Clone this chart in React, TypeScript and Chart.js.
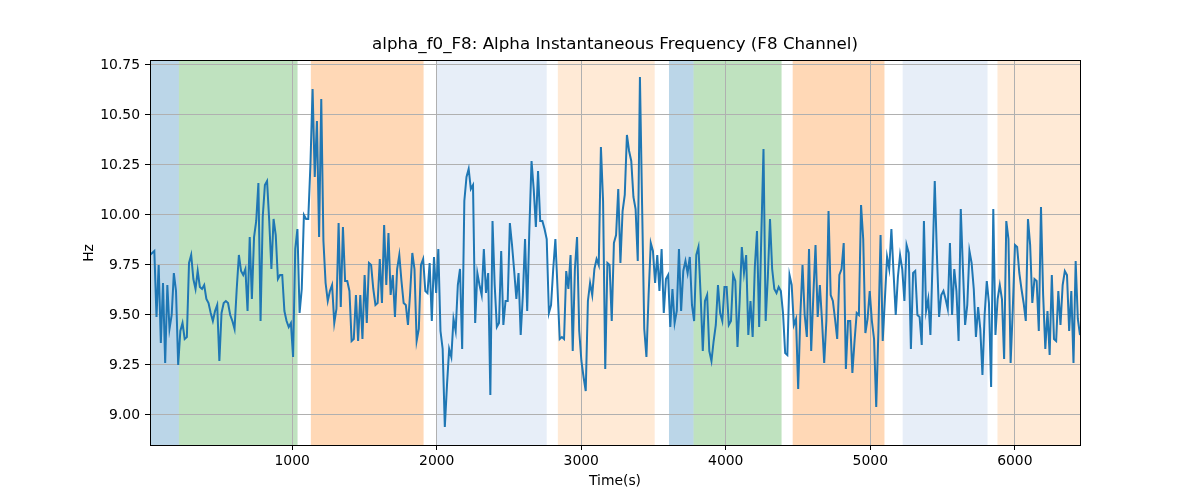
import React, { useEffect, useRef } from "react";
import { Chart, registerables } from "chart.js";

Chart.register(...registerables);

const TITLE = "alpha_f0_F8: Alpha Instantaneous Frequency (F8 Channel)";
const X_LABEL = "Time(s)";
const Y_LABEL = "Hz";

// sampling: first sample time and step (s)
const T_START = 16;
const T_STEP = 15;

// frequency samples (Hz), in time order
const hzPart1 = [
  9.80, 9.81, 9.82, 9.49, 9.75, 9.36, 9.66, 9.26, 9.65, 9.43,
  9.50, 9.71, 9.62, 9.25, 9.42, 9.46, 9.38, 9.39, 9.76, 9.80,
  9.68, 9.63, 9.72, 9.64, 9.63, 9.65, 9.58, 9.56, 9.51, 9.47,
  9.52, 9.55, 9.27, 9.51, 9.56, 9.57, 9.56, 9.50, 9.47, 9.43,
  9.63, 9.80, 9.72, 9.70, 9.73, 9.52, 9.89, 9.58, 9.89, 9.97,
  10.16, 9.47, 9.99, 10.15, 10.17, 9.97, 9.73, 9.98, 9.90, 9.68,
  9.70, 9.70, 9.52, 9.47, 9.44, 9.46, 9.29, 9.83, 9.93, 9.51,
  9.63, 10.00,
];
const hzPart2 = [
  9.98, 9.98, 10.25, 10.63, 10.19, 10.47, 9.89, 10.58, 9.87, 9.66,
  9.57, 9.62, 9.65, 9.46, 9.53, 9.96, 9.54, 9.94, 9.67, 9.67,
  9.62, 9.37, 9.38, 9.60, 9.37, 9.60, 9.38, 9.70, 9.46, 9.76,
  9.75, 9.63, 9.55, 9.56, 9.78, 9.56, 9.95, 9.65, 9.91, 9.60,
  9.70, 9.49, 9.73, 9.80, 9.67, 9.56, 9.55, 9.45, 9.61, 9.81,
  9.73, 9.37, 9.43, 9.75, 9.78, 9.62, 9.61, 9.76, 9.47, 9.79,
  9.61, 9.83, 9.42, 9.33,
];
const hzPart3 = [
  8.94, 9.15, 9.33, 9.29, 9.48, 9.42, 9.65, 9.73, 9.33, 10.07,
  10.19, 10.23, 10.13, 10.15, 9.46, 9.71, 9.65, 9.60, 9.83, 9.61,
  9.71, 9.10, 9.97, 9.65, 9.44, 9.46, 9.82, 9.45, 9.57, 9.57,
  9.96, 9.85, 9.72, 9.58, 9.71, 9.40, 9.60, 9.88, 9.52, 9.93,
  10.27, 10.13, 9.94, 10.22, 9.97, 9.97, 9.93, 9.88, 9.51, 9.55,
  9.73, 9.88, 9.63, 9.38, 9.39, 9.38, 9.72, 9.63, 9.80, 9.32,
  9.73, 9.89, 9.42, 9.27, 9.19, 9.12, 9.57, 9.66, 9.60, 9.73,
  9.78, 9.75,
];
const hzPart4 = [
  10.34, 10.07, 9.23, 9.76, 9.75, 9.47, 9.86, 9.90, 10.13, 9.76,
  10.02, 10.10, 10.40, 10.32, 10.27, 10.09, 10.03, 9.77, 10.69, 10.05,
  9.43, 9.29, 9.60, 9.86, 9.82, 9.66, 9.80, 9.62, 9.83, 9.51,
  9.68, 9.70, 9.44, 9.63, 9.46, 9.52, 9.83, 9.52, 9.72, 9.77,
  9.71, 9.79, 9.55, 9.47, 9.80, 9.84, 9.60, 9.32, 9.57, 9.60,
  9.32, 9.27, 9.37, 9.45, 9.65, 9.51, 9.47, 9.64, 9.64, 9.45,
  9.47, 9.70, 9.67, 9.34, 9.57, 9.84, 9.71,
];
const hzPart5 = [
  9.80, 9.40, 9.57, 9.39, 9.74, 9.92, 9.44, 9.90, 10.33, 9.47,
  9.69, 9.98, 9.73, 9.63, 9.61, 9.64, 9.62, 9.51, 9.31, 9.30,
  9.70, 9.65, 9.45, 9.48, 9.13, 9.50, 9.75, 9.50, 9.39, 9.83,
  9.32, 9.60, 9.85, 9.49, 9.65, 9.47, 9.26, 9.47, 10.02, 9.60,
  9.57, 9.48, 9.38, 9.70, 9.73, 9.86, 9.23, 9.47, 9.47, 9.21,
  9.37, 9.51, 9.50, 10.05, 9.88, 9.41, 9.48, 9.62, 9.47, 9.38,
  9.04, 9.42, 9.90, 9.37, 9.58, 9.79, 9.73, 9.93, 9.71, 9.50,
  9.69, 9.80, 9.73, 9.57,
];
const hzPart6 = [
  9.85, 9.81, 9.33, 9.71, 9.72, 9.50, 9.49, 9.35, 9.97, 9.52,
  9.58, 9.40, 9.77, 10.17, 9.80, 9.49, 9.60, 9.62, 9.58, 9.53,
  9.86, 9.50, 9.73, 9.62, 9.37, 10.03, 9.73, 9.45, 9.55, 9.82,
  9.76, 9.63, 9.39, 9.54, 9.43, 9.20, 9.50, 9.67, 9.56, 9.14,
  10.03, 9.40, 9.58, 9.65, 9.58, 9.28, 9.97, 9.88, 9.26, 9.53,
  9.85, 9.84, 9.71, 9.63, 9.56, 9.47, 9.98, 9.85, 9.56, 9.68,
  9.67, 9.42, 10.04, 9.60, 9.33, 9.52, 9.30, 9.70, 9.38, 9.37,
  9.62, 9.45, 9.65, 9.72, 9.70, 9.42, 9.62, 9.26, 9.77, 9.48,
  9.40,
];

const hz = [...hzPart1, ...hzPart2, ...hzPart3, ...hzPart4, ...hzPart5, ...hzPart6];
const times = hz.map((_, i) => T_START + i * T_STEP);

// tick labels
const xTicks = [1000, 2000, 3000, 4000, 5000, 6000];
const yTicks = [9.0, 9.25, 9.5, 9.75, 10.0, 10.25, 10.5, 10.75];
const Y_MIN = 8.85;
const Y_MAX = 10.77;

// shaded segments (s)
const bandStart = [16, 216, 1129, 2001, 2838, 3607, 3777, 4463, 5224, 5880];
const bandEnd = [216, 1037, 1909, 2761, 3508, 3777, 4386, 5098, 5811, 6451];
const bandKind = ["blue", "green", "orange", "lightblue", "lightorange", "blue", "green", "orange", "lightblue", "lightorange"];

const BAND_COLORS: Record<string, string> = {
  blue: "rgba(31,119,180,0.3)",
  green: "rgba(44,160,44,0.3)",
  orange: "rgba(255,127,14,0.3)",
  lightblue: "rgba(174,199,232,0.3)",
  lightorange: "rgba(255,187,120,0.3)",
};

const FONT = "DejaVu Sans";

const decorPlugin = {
  id: "decor",
  beforeDraw(chart: any) {
    const { ctx, chartArea, scales } = chart;
    const x = scales.x;
    ctx.save();
    for (let i = 0; i < bandStart.length; i++) {
      const x1 = x.getPixelForValue(bandStart[i]);
      const x2 = x.getPixelForValue(bandEnd[i]);
      ctx.fillStyle = BAND_COLORS[bandKind[i]];
      ctx.fillRect(x1, chartArea.top, x2 - x1, chartArea.bottom - chartArea.top);
    }
    ctx.restore();
  },
  afterDatasetsDraw(chart: any) {
    const { ctx, chartArea } = chart;
    ctx.save();
    ctx.strokeStyle = "#000";
    ctx.lineWidth = 1;
    const l = Math.round(chartArea.left) + 0.5;
    const r = Math.round(chartArea.right) + 0.5;
    const t = Math.round(chartArea.top) - 0.5;
    const b = Math.round(chartArea.bottom) + 0.5;
    ctx.strokeRect(l, t, r - l, b - t);
    ctx.restore();
  },
  afterDraw(chart: any) {
    const { ctx, chartArea } = chart;
    const cx = (chartArea.left + chartArea.right) / 2;
    const cy = (chartArea.top + chartArea.bottom) / 2;
    ctx.save();
    ctx.fillStyle = "#000";
    ctx.textAlign = "center";
    ctx.textBaseline = "alphabetic";
    ctx.font = `16.7px "${FONT}"`;
    ctx.fillText(TITLE, cx, 48.5);
    ctx.font = `13.9px "${FONT}"`;
    ctx.fillText(X_LABEL, cx, 485);
    ctx.translate(93.3, cy);
    ctx.rotate(-Math.PI / 2);
    ctx.fillText(Y_LABEL, 0, 0);
    ctx.restore();
  },
};

export default function App() {
  const canvasRef = useRef<HTMLCanvasElement | null>(null);

  useEffect(() => {
    if (!canvasRef.current) return;
    Chart.defaults.font.family = FONT;
    const chart = new Chart(canvasRef.current, {
      type: "line",
      data: {
        datasets: [
          {
            data: times.map((t, i) => ({ x: t, y: hz[i] })),
            borderColor: "#1f77b4",
            borderWidth: 2,
            pointRadius: 0,
            tension: 0,
            fill: false,
          },
        ],
      },
      options: {
        animation: false,
        responsive: false,
        devicePixelRatio: 1,
        layout: { padding: { left: 0, right: 120, top: 61, bottom: 0 } },
        plugins: {
          legend: { display: false },
          title: { display: false },
          tooltip: { enabled: false },
        },
        scales: {
          x: {
            type: "linear",
            min: times[0],
            max: times[times.length - 1],
            afterBuildTicks: (scale: any) => {
              scale.ticks = xTicks.map((v) => ({ value: v }));
            },
            afterFit: (scale: any) => {
              scale.height = 55;
            },
            border: { display: false },
            grid: {
              color: "#b0b0b0",
              lineWidth: 1,
              drawTicks: true,
              tickLength: 5,
              tickColor: "#000",
              tickWidth: 1,
            },
            ticks: {
              color: "#000",
              font: { family: FONT, size: 13.9 },
              padding: 3,
              maxRotation: 0,
              autoSkip: false,
              callback: (v: any) => String(v),
            },
          },
          y: {
            type: "linear",
            min: Y_MIN,
            max: Y_MAX,
            afterBuildTicks: (scale: any) => {
              scale.ticks = yTicks.map((v) => ({ value: v }));
            },
            afterFit: (scale: any) => {
              scale.width = 150;
            },
            border: { display: false },
            grid: {
              color: "#b0b0b0",
              lineWidth: 1,
              drawTicks: true,
              tickLength: 5,
              tickColor: "#000",
              tickWidth: 1,
            },
            ticks: {
              color: "#000",
              font: { family: FONT, size: 13.9 },
              padding: 5,
              autoSkip: false,
              callback: (v: any) => Number(v).toFixed(2),
            },
          },
        },
      },
      plugins: [decorPlugin],
    });
    return () => chart.destroy();
  }, []);

  return (
    <div style={{ position: "absolute", left: 0, top: 0, width: 1200, height: 500, background: "#fff" }}>
      <canvas ref={canvasRef} width={1200} height={500} style={{ display: "block" }} />
    </div>
  );
}
